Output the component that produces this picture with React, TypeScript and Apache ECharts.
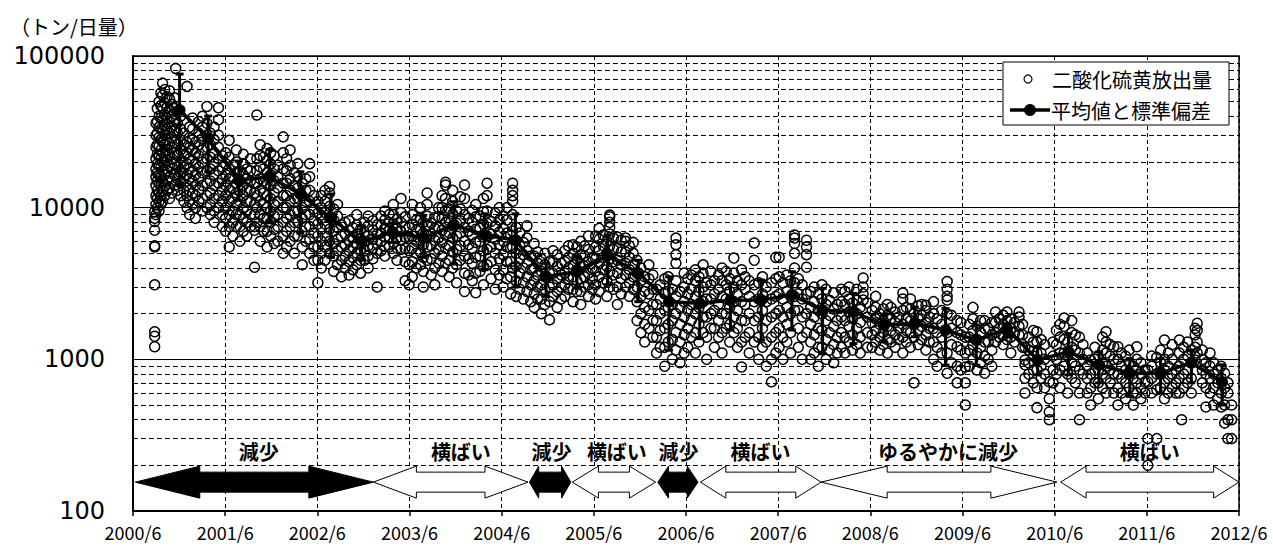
import React, { useEffect, useRef } from "react";
import * as echarts from "echarts";

// ---------- axis text ----------
const X_TICK_LABELS = ["2000/6", "2001/6", "2002/6", "2003/6", "2004/6", "2005/6", "2006/6", "2007/6", "2008/6", "2009/6", "2010/6", "2011/6", "2012/6"];
const MINOR_GRID_VALUES = [200, 300, 400, 500, 600, 700, 800, 900, 2000, 3000, 4000, 5000, 6000, 7000, 8000, 9000, 20000, 30000, 40000, 50000, 60000, 70000, 80000, 90000];
const UNIT_LABEL = "（トン/日量）";
const LEGEND_SCATTER = "二酸化硫黄放出量";
const LEGEND_MEAN = "平均値と標準偏差";

// ---------- mean and standard deviation (4-month periods) ----------
const MEAN_DATES = ["2000-12-03", "2001-03-25", "2001-07-25", "2001-11-25", "2002-03-25", "2002-07-25", "2002-11-25", "2003-03-25", "2003-07-25", "2003-11-25", "2004-03-25", "2004-07-25", "2004-11-25", "2005-03-25", "2005-07-25", "2005-11-25", "2006-03-25", "2006-07-25", "2006-11-25", "2007-03-25", "2007-07-25", "2007-11-25", "2008-03-25", "2008-07-25", "2008-11-25", "2009-03-25", "2009-07-25", "2009-11-25", "2010-03-25", "2010-07-25", "2010-11-25", "2011-03-25", "2011-07-25", "2011-11-25", "2012-03-25"];
const MEAN_VALUES = [44000, 28600, 15200, 16000, 12300, 8500, 6000, 6900, 6300, 7700, 6600, 6100, 3500, 3800, 4850, 3700, 2400, 2340, 2450, 2460, 2660, 2110, 2060, 1680, 1730, 1560, 1340, 1590, 990, 1120, 920, 810, 810, 950, 710];
const SD_LOW = [14000, 17200, 11200, 7950, 6800, 4700, 4500, 5900, 4700, 4250, 3900, 3000, 2600, 2950, 3100, 2400, 1150, 1370, 1560, 1340, 1560, 1090, 1270, 1300, 1410, 915, 915, 1400, 790, 790, 700, 570, 600, 700, 500];
const SD_HIGH = [76000, 40200, 20300, 24200, 17250, 12300, 7600, 7900, 8900, 10950, 9100, 9100, 4300, 4750, 6600, 4500, 3500, 3260, 3150, 3330, 3780, 2940, 2720, 1960, 2210, 2160, 1680, 1720, 1210, 1480, 1120, 1010, 1010, 1150, 920];

// ---------- daily SO2 emission observations: [date, values on that date] ----------
const OBS_2000: [string, number[]][] = [
  ["2000-08-26", [1210, 1420, 1520, 3100, 5500, 5600, 7100, 8100, 8500, 9400]],
  ["2000-08-31", [9000, 10500, 12000, 14000, 16000, 18000, 21000, 25000, 30000, 36000]],
  ["2000-09-06", [10000, 11500, 13000, 15000, 17000, 19500, 22500, 26000, 31000, 37000, 45000]],
  ["2000-09-13", [9500, 11000, 12500, 14500, 16500, 19000, 22000, 25500, 29000, 34000, 40000, 50000]],
  ["2000-09-20", [10500, 12000, 14000, 16000, 18500, 21000, 24000, 28000, 33000, 39000, 47000, 57000]],
  ["2000-09-27", [11000, 13000, 15000, 17500, 20000, 23000, 27000, 32000, 38000, 46000, 55000, 66200]],
  ["2000-10-05", [12000, 14000, 16500, 19000, 22000, 26000, 30000, 35000, 41000, 49000, 60000]],
  ["2000-10-14", [13000, 15000, 17500, 20500, 24000, 28000, 33000, 39000, 46000, 54000]],
  ["2000-10-24", [11500, 13500, 16000, 19000, 22500, 26500, 31000, 37000, 44000, 52000, 59000]],
  ["2000-11-03", [12500, 15000, 18000, 21000, 25000, 29000, 34000, 40000, 48000]],
  ["2000-11-13", [14000, 16500, 19500, 23000, 27000, 32000, 38000, 45000, 53000]],
  ["2000-11-18", [82800]],
  ["2000-11-25", [13000, 15500, 18500, 22000, 26000, 31000, 36000, 43000]],
  ["2000-12-07", [12000, 14500, 17000, 20000, 24000, 28000, 33000, 40000]],
  ["2000-12-20", [11000, 13000, 15500, 18500, 22000, 26000, 31000]],
];
const OBS_2001: [string, number[]][] = [
  ["2001-01-02", [10000, 12000, 14000, 16500, 19500, 23000, 27000, 63000]],
  ["2001-01-12", [9000, 11000, 13000, 15500, 18000, 21000, 25000, 29000, 34000]],
  ["2001-01-24", [10500, 12500, 15000, 17500, 20500, 24000, 28000, 33000, 39000]],
  ["2001-02-05", [8500, 10000, 12000, 14000, 16500, 19500, 23000, 27000]],
  ["2001-02-18", [11000, 13000, 15500, 18500, 22000, 26000, 31000, 37000]],
  ["2001-03-02", [9500, 11500, 14000, 17000, 20000, 24000, 28500, 34000, 40000]],
  ["2001-03-20", [10000, 12000, 14500, 17500, 21000, 25000, 30000, 36000, 46500]],
  ["2001-04-03", [9000, 10500, 12500, 15000, 18000, 21500, 26000, 31000]],
  ["2001-04-18", [8000, 9500, 11500, 14000, 16500, 19500, 23000, 28000, 34000]],
  ["2001-05-05", [10000, 12000, 14500, 17500, 21000, 25000, 30000, 38000, 45600]],
  ["2001-05-20", [7500, 9000, 11000, 13000, 15500, 18500, 22000]],
  ["2001-06-03", [7000, 8500, 10000, 12000, 14000, 16500, 19500, 23000]],
  ["2001-06-17", [5500, 7500, 9000, 11000, 13000, 15500, 18000, 21500, 27800]],
  ["2001-07-01", [6500, 8000, 9500, 11500, 13500, 16000, 19000]],
  ["2001-07-15", [7500, 9000, 10500, 12500, 14500, 17000, 20000, 24000]],
  ["2001-07-29", [6000, 7500, 9000, 11000, 13000, 15000, 17500]],
  ["2001-08-12", [7000, 8500, 10000, 12000, 14000, 16500, 19500, 22500]],
  ["2001-08-26", [6500, 8000, 9500, 11000, 13000, 15500, 18000]],
  ["2001-09-10", [7500, 9000, 11000, 13000, 15000, 17500, 21000]],
  ["2001-09-26", [4050, 7100, 7500, 9000, 10500, 12500, 14500]],
  ["2001-10-05", [40800, 8000, 10000, 12000, 14500, 17500, 21000]],
  ["2001-10-18", [6000, 7500, 9000, 11000, 13000, 15500, 18500, 22000, 26000]],
  ["2001-11-01", [7000, 8500, 10500, 12500, 15000, 18000, 21500]],
  ["2001-11-15", [5500, 7000, 8500, 10000, 12000, 14500, 17000, 20500, 24500]],
  ["2001-11-29", [6500, 8000, 9500, 11500, 14000, 16500, 19500, 23000]],
  ["2001-12-13", [5800, 7200, 8800, 10500, 12500, 15000, 18000, 22000]],
  ["2001-12-27", [6000, 7500, 9000, 11000, 13500, 16000, 19000]],
];
const OBS_2002: [string, number[]][] = [
  ["2002-01-18", [5000, 6500, 8000, 10000, 12000, 14500, 18000, 23000, 29300]],
  ["2002-02-01", [5500, 7000, 8500, 10000, 12000, 14500, 17500, 21000]],
  ["2002-02-15", [6000, 7500, 9000, 11000, 13000, 15500, 19000, 24000]],
  ["2002-03-01", [5000, 6500, 8000, 9500, 11500, 14000, 17000]],
  ["2002-03-15", [6500, 8000, 9500, 11500, 13500, 16000, 19500]],
  ["2002-04-02", [4200, 5500, 7000, 8500, 10000, 12000, 14500]],
  ["2002-04-16", [6000, 7500, 9000, 11000, 13000, 15500]],
  ["2002-05-01", [5000, 6200, 7500, 9000, 11000, 13000, 16000, 19500]],
  ["2002-05-18", [4500, 5500, 6800, 8200, 9800, 12000]],
  ["2002-06-03", [3200, 4500, 5500, 6500, 7800, 9200, 11000]],
  ["2002-06-17", [4000, 5000, 6000, 7200, 8500, 10000, 12000]],
  ["2002-07-01", [4500, 5500, 6500, 7800, 9300, 11000, 13000]],
  ["2002-07-19", [5000, 6000, 7200, 8600, 10200, 12500, 13800]],
  ["2002-08-05", [3800, 4800, 5800, 7000, 8300, 9800]],
  ["2002-08-20", [4200, 5200, 6200, 7400, 8800, 10500]],
  ["2002-09-05", [3500, 4500, 5500, 6500, 7700]],
  ["2002-09-20", [4000, 4800, 5700, 6700, 8000]],
  ["2002-10-05", [3600, 4400, 5200, 6100, 7100, 8200]],
  ["2002-10-20", [3900, 4700, 5500, 6400, 7400]],
  ["2002-11-05", [4200, 5000, 5800, 6700, 7700, 9000]],
  ["2002-11-20", [3700, 4500, 5300, 6200, 7200]],
  ["2002-12-05", [4500, 5200, 6000, 6900, 8000]],
  ["2002-12-20", [4000, 4800, 5600, 6500, 7600, 8800]],
];
const OBS_2003: [string, number[]][] = [
  ["2003-01-08", [4600, 5400, 6200, 7100, 8200]],
  ["2003-01-25", [3000, 5000, 5800, 6700, 7700]],
  ["2003-02-10", [5200, 6000, 6800, 7700, 8800]],
  ["2003-02-25", [4800, 5600, 6400, 7300, 8300, 9500]],
  ["2003-03-12", [5500, 6300, 7100, 8000, 9000]],
  ["2003-03-28", [5000, 5900, 6800, 7800, 9000, 10500]],
  ["2003-04-12", [4500, 5400, 6300, 7300, 8400]],
  ["2003-04-28", [5300, 6100, 7000, 8000, 9300, 11500]],
  ["2003-05-14", [3300, 4400, 5400, 6400, 7500, 8700]],
  ["2003-05-30", [3100, 4200, 5200, 6300, 7400]],
  ["2003-06-12", [3500, 4400, 5400, 6500, 7700, 9000, 10500]],
  ["2003-06-28", [4000, 5000, 6000, 7100, 8300]],
  ["2003-07-14", [4200, 5100, 6100, 7200, 8500, 10000]],
  ["2003-07-25", [3000, 3800, 4700, 5700, 6800, 8000]],
  ["2003-08-10", [4500, 5500, 6500, 7600, 8800, 10500, 12500]],
  ["2003-08-26", [3600, 4600, 5600, 6700, 7900]],
  ["2003-09-10", [3100, 4000, 5000, 6100, 7300, 8600]],
  ["2003-09-25", [4300, 5300, 6300, 7400, 8700, 10000]],
  ["2003-10-08", [3800, 4800, 5900, 7100, 8500, 10000, 12000]],
  ["2003-10-22", [4300, 5400, 6600, 8000, 9600, 11500, 14100, 14700]],
  ["2003-11-06", [3500, 4500, 5600, 6800, 8200, 9800]],
  ["2003-11-20", [4000, 5100, 6300, 7600, 9100, 11000, 13000]],
  ["2003-12-05", [3200, 4200, 5300, 6500, 7900, 9500]],
  ["2003-12-20", [4500, 5600, 6800, 8200, 9800, 11800]],
];
const OBS_2004: [string, number[]][] = [
  ["2004-01-06", [2800, 3700, 4800, 6000, 7400, 9000, 11500, 14100]],
  ["2004-01-22", [3600, 4600, 5700, 7000, 8500]],
  ["2004-02-06", [3300, 4300, 5400, 6600, 8000, 9600]],
  ["2004-02-20", [2750, 3700, 4700, 5900, 7200, 8700, 10500]],
  ["2004-03-06", [3800, 4800, 6000, 7300, 8800]],
  ["2004-03-20", [3100, 4100, 5200, 6400, 7800, 9400, 11500]],
  ["2004-04-04", [4200, 5300, 6500, 7900, 9500, 12000, 14500]],
  ["2004-04-20", [3400, 4400, 5500, 6700, 8100]],
  ["2004-05-06", [2900, 3900, 5000, 6200, 7600, 9200]],
  ["2004-05-22", [3600, 4600, 5700, 6900, 8300, 10000]],
  ["2004-06-07", [3000, 3900, 4900, 6000, 7300, 8800]],
  ["2004-06-22", [3400, 4400, 5500, 6800, 8300, 10000]],
  ["2004-07-06", [2700, 3500, 4400, 5400, 6600]],
  ["2004-07-14", [4000, 5500, 7000, 9000, 11000, 12000, 13000, 14500]],
  ["2004-07-28", [2600, 3300, 4100, 5000, 6100, 7400]],
  ["2004-08-12", [2900, 3700, 4600, 5600, 6800]],
  ["2004-08-26", [2500, 3200, 4000, 4900, 5900]],
  ["2004-09-10", [2800, 3500, 4300, 5200, 6300, 7600]],
  ["2004-09-25", [2400, 3100, 3900, 4800]],
  ["2004-10-08", [2200, 2700, 3300, 4000, 4800, 5800]],
  ["2004-10-22", [2500, 3000, 3600, 4300, 5100]],
  ["2004-11-06", [2000, 2500, 3100, 3800, 4600]],
  ["2004-11-20", [2300, 2900, 3500, 4200, 5000]],
  ["2004-12-08", [1820, 2400, 3000, 3700, 4400]],
  ["2004-12-22", [2600, 3100, 3700, 4400, 5200]],
];
const OBS_2005: [string, number[]][] = [
  ["2005-01-08", [2200, 2800, 3400, 4100, 4900]],
  ["2005-01-24", [2500, 3000, 3600, 4300]],
  ["2005-02-08", [2600, 3100, 3700, 4400, 5200]],
  ["2005-02-22", [2900, 3400, 4000, 4700, 5600]],
  ["2005-03-10", [2400, 2900, 3500, 4200, 5000, 5700]],
  ["2005-03-25", [2800, 3300, 3900, 4600, 5500]],
  ["2005-04-10", [2300, 2800, 3400, 4100, 4900, 6000]],
  ["2005-04-25", [3000, 3500, 4100, 4800, 5600]],
  ["2005-05-10", [2600, 3100, 3700, 4400, 5300, 6500]],
  ["2005-05-25", [2900, 3400, 4000, 4700]],
  ["2005-06-08", [2500, 3100, 3800, 4600, 5500, 6500]],
  ["2005-06-22", [2800, 3500, 4300, 5200, 6200, 7300]],
  ["2005-07-08", [3200, 3900, 4700, 5600, 6600]],
  ["2005-07-22", [2600, 3300, 4100, 5000, 6000]],
  ["2005-08-03", [3000, 3800, 4600, 5600, 6700, 7400, 8000, 8700, 8950]],
  ["2005-08-18", [2900, 3600, 4400, 5300, 6300]],
  ["2005-09-03", [2300, 3000, 3700, 4500, 5400, 6400]],
  ["2005-09-18", [2700, 3400, 4200, 5100, 6100]],
  ["2005-10-05", [3000, 3600, 4300, 5100, 6000, 6300]],
  ["2005-10-20", [2600, 3200, 3900, 4700, 5600]],
  ["2005-11-05", [2900, 3500, 4200, 5000, 5900]],
  ["2005-11-20", [1800, 2400, 3000, 3700, 4500]],
  ["2005-12-05", [1500, 2000, 2600, 3300, 4000]],
  ["2005-12-20", [1300, 1700, 2200, 2800, 3500]],
];
const OBS_2006: [string, number[]][] = [
  ["2006-01-06", [1600, 2100, 2700, 3400, 4200]],
  ["2006-01-22", [1400, 1800, 2300, 2900, 3600]],
  ["2006-02-06", [1100, 1400, 1800, 2300, 2900]],
  ["2006-02-20", [1200, 1550, 2000, 2500, 3100]],
  ["2006-03-08", [900, 1200, 1600, 2100, 2700, 3400]],
  ["2006-03-22", [1300, 1700, 2200, 2800, 3500]],
  ["2006-04-08", [1000, 1350, 1800, 2300, 2900]],
  ["2006-04-22", [1150, 1500, 2000, 2600, 3300, 4300, 4900, 5700, 6300]],
  ["2006-05-08", [950, 1300, 1700, 2200, 2800]],
  ["2006-05-24", [1100, 1450, 1900, 2400, 3000, 3700]],
  ["2006-06-08", [1200, 1600, 2100, 2700, 3400]],
  ["2006-06-22", [1400, 1800, 2300, 2900, 3600]],
  ["2006-07-08", [1100, 1500, 2000, 2600, 3300, 3900]],
  ["2006-07-22", [1300, 1700, 2200, 2800, 3500]],
  ["2006-08-08", [1500, 1900, 2400, 3000, 3700, 4200]],
  ["2006-08-22", [1000, 1400, 1900, 2500, 3200]],
  ["2006-09-08", [1600, 2000, 2500, 3100, 3800]],
  ["2006-09-22", [1200, 1600, 2100, 2700, 3300]],
  ["2006-10-08", [1400, 1800, 2300, 2900, 3600]],
  ["2006-10-22", [1100, 1500, 2000, 2600, 3300, 4000]],
  ["2006-11-08", [1600, 2000, 2500, 3100, 3800]],
  ["2006-11-22", [1300, 1700, 2200, 2800, 3400]],
  ["2006-12-08", [1500, 1900, 2400, 3000, 3700, 4650]],
  ["2006-12-22", [1200, 1600, 2100, 2700, 3300]],
];
const OBS_2007: [string, number[]][] = [
  ["2007-01-08", [890, 1300, 1800, 2400, 3100, 3900]],
  ["2007-01-22", [1400, 1800, 2300, 2900, 3500]],
  ["2007-02-08", [1100, 1500, 2000, 2600, 3300]],
  ["2007-02-28", [1300, 1800, 2400, 3100, 4500, 5850]],
  ["2007-03-15", [1000, 1400, 1900, 2500, 3200]],
  ["2007-03-30", [1200, 1600, 2100, 2700, 3500]],
  ["2007-04-15", [900, 1300, 1800, 2400, 3000]],
  ["2007-05-05", [710, 1000, 1400, 1900, 2500, 3200]],
  ["2007-05-22", [1100, 1500, 2000, 2600, 3400, 4700]],
  ["2007-06-05", [1200, 1600, 2100, 2700, 3500, 4700]],
  ["2007-06-20", [1000, 1400, 1900, 2500, 3200]],
  ["2007-07-05", [1300, 1700, 2200, 2800, 3600]],
  ["2007-07-20", [1100, 1500, 2000, 2600, 3300]],
  ["2007-08-05", [2100, 2600, 3200, 4000, 5000, 5800, 6300, 6600]],
  ["2007-08-20", [1200, 1600, 2100, 2700, 3400]],
  ["2007-09-05", [1000, 1400, 1900, 2500, 3100]],
  ["2007-09-22", [1500, 2000, 2700, 4050, 4900, 5500, 6100]],
  ["2007-10-08", [1000, 1300, 1700, 2200, 2800]],
  ["2007-10-22", [1100, 1450, 1900, 2400, 3000]],
  ["2007-11-08", [900, 1200, 1600, 2100, 2700]],
  ["2007-11-22", [1200, 1550, 2000, 2500, 3100]],
  ["2007-12-08", [1000, 1350, 1800, 2300, 2900]],
  ["2007-12-22", [1150, 1500, 1950, 2450]],
];
const OBS_2008: [string, number[]][] = [
  ["2008-01-08", [950, 1250, 1650, 2150, 2750]],
  ["2008-01-22", [1100, 1400, 1800, 2300]],
  ["2008-02-08", [1200, 1500, 1900, 2400, 2900]],
  ["2008-02-22", [1100, 1400, 1800, 2300, 2800]],
  ["2008-03-08", [1300, 1650, 2050, 2500, 3000]],
  ["2008-03-22", [1150, 1450, 1850, 2350]],
  ["2008-04-08", [1250, 1600, 2000, 2450, 2900]],
  ["2008-04-22", [1100, 1400, 1750, 2200]],
  ["2008-05-03", [2460, 2700, 3000, 3440]],
  ["2008-05-20", [1200, 1500, 1900, 2350]],
  ["2008-06-08", [1200, 1450, 1750, 2100]],
  ["2008-06-22", [1300, 1550, 1850, 2200, 2600]],
  ["2008-07-08", [1150, 1400, 1700, 2000]],
  ["2008-07-22", [1250, 1500, 1800, 2150]],
  ["2008-08-08", [1100, 1350, 1650, 1950, 2300]],
  ["2008-08-22", [1300, 1550, 1850, 2200]],
  ["2008-09-08", [1200, 1450, 1750, 2050]],
  ["2008-09-22", [1350, 1600, 1900]],
  ["2008-10-08", [1100, 1400, 1700, 2100, 2500, 2740]],
  ["2008-10-22", [1300, 1550, 1850, 2200]],
  ["2008-11-08", [1200, 1500, 1800, 2150, 2500]],
  ["2008-11-22", [700, 1400, 1700, 2000]],
  ["2008-12-08", [1250, 1550, 1850, 2250]],
  ["2008-12-22", [1350, 1650, 1950, 2300]],
];
const OBS_2009: [string, number[]][] = [
  ["2009-01-08", [1150, 1450, 1750, 2100, 2270]],
  ["2009-01-22", [1300, 1600, 1900]],
  ["2009-02-08", [1000, 1300, 1600, 2000, 2400]],
  ["2009-02-22", [900, 1200, 1500, 1850]],
  ["2009-03-10", [1100, 1400, 1700, 2100]],
  ["2009-04-01", [810, 1100, 1500, 2000, 2460, 2600, 2900, 3260]],
  ["2009-04-18", [950, 1250, 1600, 1950]],
  ["2009-05-10", [700, 900, 1210, 1500, 1800]],
  ["2009-05-25", [850, 1150, 1450, 1750]],
  ["2009-06-12", [500, 700, 890, 1100, 1400]],
  ["2009-06-28", [900, 1150, 1400, 1700]],
  ["2009-07-12", [1000, 1250, 1550, 1850, 2200]],
  ["2009-07-28", [850, 1100, 1350, 1650]],
  ["2009-08-12", [950, 1200, 1500, 1800]],
  ["2009-08-28", [810, 1050, 1300, 1600, 1800]],
  ["2009-09-12", [1000, 1300, 1600]],
  ["2009-09-26", [900, 1150, 1450, 1750]],
  ["2009-10-10", [1300, 1500, 1750, 2050]],
  ["2009-10-25", [1400, 1600, 1850]],
  ["2009-11-10", [1250, 1450, 1700, 1950]],
  ["2009-11-25", [1350, 1550, 1800, 2050]],
  ["2009-12-10", [1100, 1400, 1600, 1850]],
  ["2009-12-25", [1300, 1500, 1750]],
];
const OBS_2010: [string, number[]][] = [
  ["2010-01-12", [1450, 1650, 1900, 2050]],
  ["2010-01-26", [1200, 1450, 1700]],
  ["2010-02-05", [600, 750, 920, 990, 1200]],
  ["2010-02-20", [800, 950, 1150, 1400]],
  ["2010-03-08", [700, 850, 1050, 1300, 1550]],
  ["2010-03-22", [480, 650, 850, 1100, 1300, 1520]],
  ["2010-04-08", [750, 900, 1100, 1350]],
  ["2010-04-22", [650, 800, 1000, 1250]],
  ["2010-05-10", [400, 450, 550, 710]],
  ["2010-05-25", [700, 850, 1050, 1300]],
  ["2010-06-08", [800, 1000, 1250, 1550]],
  ["2010-06-22", [650, 850, 1100, 1400, 1700]],
  ["2010-07-08", [900, 1100, 1350, 1650, 1870]],
  ["2010-07-22", [600, 800, 1050, 1300]],
  ["2010-08-08", [750, 950, 1200, 1500, 1800]],
  ["2010-08-22", [700, 900, 1150, 1450]],
  ["2010-09-08", [400, 600, 850, 1100, 1400]],
  ["2010-09-22", [800, 1000, 1250]],
  ["2010-10-08", [600, 750, 900, 1100]],
  ["2010-10-22", [500, 650, 800, 990]],
  ["2010-11-08", [700, 850, 1000, 1200]],
  ["2010-11-22", [550, 700, 850, 1050]],
  ["2010-12-08", [650, 800, 950, 1150, 1400]],
  ["2010-12-22", [600, 750, 900, 1100, 1300, 1520]],
];
const OBS_2011: [string, number[]][] = [
  ["2011-01-08", [700, 850, 1050, 1250]],
  ["2011-01-22", [600, 800, 1000, 1210]],
  ["2011-02-08", [500, 650, 800, 1000, 1210]],
  ["2011-02-22", [600, 750, 900, 1100]],
  ["2011-03-08", [550, 700, 850, 1050]],
  ["2011-03-22", [650, 800, 950, 1150]],
  ["2011-04-08", [500, 600, 750, 900]],
  ["2011-04-22", [600, 700, 850, 1000, 1210]],
  ["2011-05-08", [550, 650, 800, 950]],
  ["2011-05-24", [600, 710, 850]],
  ["2011-06-05", [200, 300, 710, 850]],
  ["2011-06-20", [600, 750, 900, 1050]],
  ["2011-07-10", [300, 630, 800, 1030]],
  ["2011-07-25", [650, 800, 950, 1150]],
  ["2011-08-10", [550, 700, 850, 1000, 1340]],
  ["2011-08-25", [600, 750, 900, 1100]],
  ["2011-09-10", [650, 800, 1000, 1250]],
  ["2011-09-25", [600, 700, 850]],
  ["2011-10-08", [600, 750, 900, 1100, 1340]],
  ["2011-10-17", [400]],
  ["2011-10-25", [650, 800, 1000, 1200]],
  ["2011-11-10", [700, 850, 1050, 1300]],
  ["2011-11-25", [600, 750, 950, 1150]],
  ["2011-12-10", [990, 1200, 1450, 1600]],
  ["2011-12-18", [1100, 1300, 1550, 1730]],
];
const OBS_2012: [string, number[]][] = [
  ["2012-01-08", [700, 850, 1000, 1150]],
  ["2012-01-22", [485, 650, 800, 950]],
  ["2012-02-08", [600, 750, 900, 1100]],
  ["2012-02-22", [500, 650, 800, 950]],
  ["2012-03-08", [550, 700, 850]],
  ["2012-03-22", [485, 600, 750, 900]],
  ["2012-04-05", [380, 500, 650, 810]],
  ["2012-04-18", [300, 400, 600, 700]],
  ["2012-05-02", [300, 400, 500]],
];

// ---------- trend arrows ----------
const ARROW_LABELS = ["減少", "横ばい", "減少", "横ばい", "減少", "横ばい", "ゆるやかに減少", "横ばい"];
const ARROW_FROM = ["2000-06-10", "2003-01-10", "2004-09-20", "2005-03-07", "2006-02-11", "2006-07-28", "2007-11-19", "2010-06-25"];
const ARROW_TO = ["2003-01-10", "2004-09-14", "2005-03-01", "2006-02-02", "2006-07-18", "2007-11-19", "2010-06-10", "2012-06-01"];
const ARROW_LABEL_AT = ["2001-10-12", "2003-12-22", "2004-12-16", "2005-09-01", "2006-05-02", "2007-03-22", "2009-04-04", "2011-06-13"];
const ARROW_HEAD_MONTHS = [8.4, 5.6, 1.2, 3.4, 1.4, 3.3, 8.6, 3.3];
const ARROW_FILLED = [1, 0, 1, 0, 1, 0, 0, 0];
const ARROW_LEVEL = 155;

function toMonths(d: string): number {
  const [y, m, day] = d.split("-").map(Number);
  return (y - 2000) * 12 + (m - 6) + (day - 1) / 30.44;
}

const FONT_JP = '"Noto Sans CJK JP", sans-serif';

export default function App() {
  const ref = useRef<HTMLDivElement>(null);

  useEffect(() => {
    const chart = echarts.init(ref.current!, null, { renderer: "svg" });

    const allObs = [...OBS_2000, ...OBS_2001, ...OBS_2002, ...OBS_2003, ...OBS_2004, ...OBS_2005, ...OBS_2006, ...OBS_2007, ...OBS_2008, ...OBS_2009, ...OBS_2010, ...OBS_2011, ...OBS_2012];
    const scatterData = allObs.flatMap(([d, vs]) => vs.map((v) => [toMonths(d), v]));
    const meanData = MEAN_DATES.map((d, i) => [toMonths(d), MEAN_VALUES[i]]);
    const errData = MEAN_DATES.map((d, i) => [toMonths(d), SD_LOW[i], SD_HIGH[i]]);
    const arrowData = ARROW_LABELS.map((_, i) => [toMonths(ARROW_FROM[i]), toMonths(ARROW_TO[i]), ARROW_HEAD_MONTHS[i], toMonths(ARROW_LABEL_AT[i]), ARROW_FILLED[i], ARROW_LEVEL]);

    const option: any = {
      animation: false,
      backgroundColor: "#fff",
      grid: { left: 133, right: 34, top: 56, bottom: 36, show: true, borderColor: "#000", borderWidth: 1.5, backgroundColor: "transparent" },
      xAxis: {
        type: "value",
        min: 0,
        max: 144,
        interval: 12,
        axisLabel: { formatter: (v: number) => X_TICK_LABELS[Math.round(v / 12)], fontFamily: FONT_JP, fontSize: 18, lineHeight: 18, color: "#000", margin: 12 },
        axisLine: { lineStyle: { color: "#000", width: 2 } },
        axisTick: { show: true, length: 5, lineStyle: { color: "#000", width: 1.5 } },
        splitLine: { show: true, lineStyle: { color: "#000", type: [4, 3], width: 1 } },
      },
      yAxis: {
        type: "log",
        logBase: 10,
        min: 100,
        max: 100000,
        axisLabel: { formatter: (v: number) => String(v), fontFamily: "DejaVu Sans", fontSize: 24, color: "#000", margin: 28 },
        axisLine: { show: true, lineStyle: { color: "#000", width: 2 } },
        axisTick: { show: false },
        splitLine: { show: true, lineStyle: { color: "#000", width: 1 } },
      },
      series: [
        {
          type: "line",
          data: [],
          silent: true,
          z: 1,
          markLine: {
            silent: true,
            symbol: ["none", "none"],
            label: { show: false },
            lineStyle: { color: "#000", type: [5, 3], width: 1 },
            data: MINOR_GRID_VALUES.map((v) => ({ yAxis: v })),
          },
        },
        {
          name: LEGEND_SCATTER,
          type: "scatter",
          data: scatterData,
          symbol: "circle",
          symbolSize: 10,
          progressive: 0,
          itemStyle: { color: "rgba(255,255,255,0)", borderColor: "#000", borderWidth: 1.5, opacity: 1 },
          z: 2,
        },
        {
          type: "custom",
          data: errData,
          encode: { x: 0, y: [1, 2] },
          z: 3,
          renderItem: (params: any, api: any) => {
            const m = api.value(0);
            const top = api.coord([m, api.value(2)]);
            const bot = api.coord([m, api.value(1)]);
            const w = 4;
            const st = { stroke: "#000", lineWidth: 3 };
            return {
              type: "group",
              children: [
                { type: "line", shape: { x1: top[0], y1: top[1], x2: bot[0], y2: bot[1] }, style: st },
                { type: "line", shape: { x1: top[0] - w, y1: top[1], x2: top[0] + w, y2: top[1] }, style: st },
                { type: "line", shape: { x1: bot[0] - w, y1: bot[1], x2: bot[0] + w, y2: bot[1] }, style: st },
              ],
            };
          },
        },
        {
          name: LEGEND_MEAN,
          type: "line",
          data: meanData,
          symbol: "circle",
          symbolSize: 12,
          lineStyle: { color: "#000", width: 3.5 },
          itemStyle: { color: "#000" },
          z: 4,
        },
        {
          type: "custom",
          data: arrowData,
          encode: { x: [0, 1, 3], y: 5 },
          clip: false,
          z: 5,
          renderItem: (params: any, api: any) => {
            const i = params.dataIndex;
            const s = api.value(0);
            const e = api.value(1);
            const h = api.value(2);
            const lab = api.value(3);
            const filled = api.value(4) === 1;
            const [x0, y] = api.coord([s, ARROW_LEVEL]);
            const x1 = api.coord([e, ARROW_LEVEL])[0];
            const hx = api.coord([s + h, ARROW_LEVEL])[0] - x0;
            const lx = api.coord([lab, ARROW_LEVEL])[0];
            const H = 16;
            const S = 10;
            const points = [
              [x0, y], [x0 + hx, y - H], [x0 + hx, y - S], [x1 - hx, y - S], [x1 - hx, y - H],
              [x1, y], [x1 - hx, y + H], [x1 - hx, y + S], [x0 + hx, y + S], [x0 + hx, y + H],
            ];
            return {
              type: "group",
              children: [
                { type: "polygon", shape: { points }, style: { fill: filled ? "#000" : "#fff", stroke: "#000", lineWidth: 1 } },
                {
                  type: "text",
                  style: { text: ARROW_LABELS[i], x: lx, y: y - 31, align: "center", verticalAlign: "middle", fill: "#000", font: `bold 20px ${FONT_JP}` },
                },
              ],
            };
          },
        },
      ],
      graphic: [
        { type: "text", left: 10, top: 16, style: { text: UNIT_LABEL, fill: "#000", font: `20px ${FONT_JP}` }, z: 10 },
        { type: "rect", shape: { x: 1003, y: 62, width: 226, height: 63 }, style: { fill: "#fff", stroke: "#000", lineWidth: 1 }, z: 10 },
        { type: "circle", shape: { cx: 1028, cy: 79, r: 4 }, style: { fill: "#fff", stroke: "#000", lineWidth: 1.2 }, z: 11 },
        { type: "text", style: { text: LEGEND_SCATTER, x: 1052, y: 79, verticalAlign: "middle", fill: "#000", font: `20px ${FONT_JP}` }, z: 11 },
        { type: "line", shape: { x1: 1010, y1: 110, x2: 1050, y2: 110 }, style: { stroke: "#000", lineWidth: 3.5 }, z: 11 },
        { type: "circle", shape: { cx: 1030, cy: 110, r: 6 }, style: { fill: "#000" }, z: 11 },
        { type: "text", style: { text: LEGEND_MEAN, x: 1051, y: 110, verticalAlign: "middle", fill: "#000", font: `20px ${FONT_JP}` }, z: 11 },
      ],
    };

    chart.setOption(option);
    return () => chart.dispose();
  }, []);

  return <div ref={ref} style={{ position: "fixed", left: 0, top: 0, width: 1273, height: 547, background: "#fff" }} />;
}
